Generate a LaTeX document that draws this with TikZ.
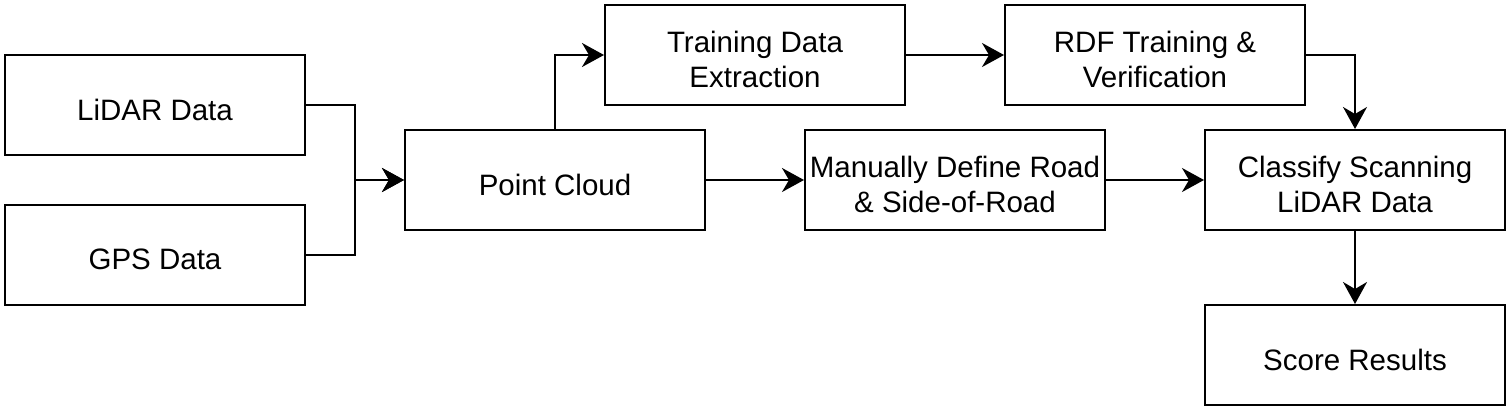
\documentclass[tikz,border=0pt]{standalone}
\usepackage{fontspec}
\setmainfont{Liberation Sans}
\usetikzlibrary{arrows.meta}
\begin{document}
\begin{tikzpicture}[x=1pt,y=-1pt,
  box/.style={draw=black,line width=2pt,minimum width=300pt,minimum height=100pt,inner sep=0pt},
  txt/.style={inner sep=0pt,align=center,yshift=-4.5pt,font=\fontsize{29.5}{35}\selectfont},
  conn/.style={draw=black,line width=2pt,-{Stealth[length=22pt,width=24pt,inset=7pt]}}]
\useasboundingbox (0,0) rectangle (1511,412);
\node[box] (lidar) at (155,105) {};
\node[box] (gps) at (155,255) {};
\node[box] (pc) at (555,180) {};
\node[box] (tde) at (755,55) {};
\node[box] (rdf) at (1155,55) {};
\node[box] (man) at (955,180) {};
\node[box] (cls) at (1355,180) {};
\node[box] (score) at (1355,355) {};
\node[txt] (tlidar) at (lidar.center) {LiDAR Data};
\node[txt] (tgps) at (gps.center) {GPS Data};
\node[txt] (tpc) at (pc.center) {Point Cloud};
\node[txt] (ttde) at (tde.center) {Training Data\\Extraction};
\node[txt] (trdf) at (rdf.center) {RDF Training \&\\Verification};
\node[txt] (tman) at (man.center) {Manually Define Road\\\& Side-of-Road};
\node[txt] (tcls) at (cls.center) {Classify Scanning\\LiDAR Data};
\node[txt] (tscore) at (score.center) {Score Results};
\coordinate (j) at (355,180);
\draw[conn] (lidar.east) -| (j) -- (pc.west);
\draw[conn] (gps.east) -| (j) -- (pc.west);
\draw[conn] (pc.north) |- (tde.west);
\draw[conn] (tde.east) -- (rdf.west);
\draw[conn] (rdf.east) -| (cls.north);
\draw[conn] (pc.east) -- (man.west);
\draw[conn] (man.east) -- (cls.west);
\draw[conn] (cls.south) -- (score.north);
\end{tikzpicture}
\end{document}
